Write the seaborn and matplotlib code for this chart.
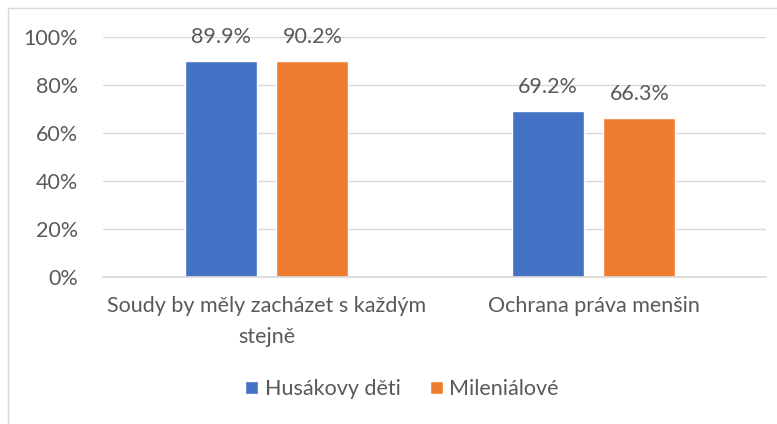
import matplotlib
matplotlib.use("Agg")
import matplotlib.pyplot as plt
import matplotlib.patches as mpatches
import seaborn as sns
import pandas as pd

categories = ["Soudy by měly zacházet s každým\nstejně", "Ochrana práva menšin"]
series_names = ["Husákovy děti", "Mileniálové"]
husak = [0.899, 0.692]
mileni = [0.902, 0.663]
colors = ["#4472C4", "#ED7D31"]
yticks = [0, 0.2, 0.4, 0.6, 0.8, 1.0]
ytick_labels = ["0%", "20%", "40%", "60%", "80%", "100%"]

df = pd.DataFrame({
    "category": categories * 2,
    "series": [series_names[0]] * 2 + [series_names[1]] * 2,
    "value": husak + mileni,
})

sns.set_theme(style="white")
plt.rcParams["font.family"] = ["Lato", "DejaVu Sans"]
txt = "#595959"
fs = 15.5

fig = plt.figure(figsize=(7.77, 4.24), dpi=100)
ax = fig.add_axes([103 / 777, 1 - 277 / 424, (766 - 103) / 777, (277 - 37) / 424])

sns.barplot(data=df, x="category", y="value", hue="series", order=categories,
            hue_order=series_names, palette=colors, width=0.56, gap=0.215,
            saturation=1, ax=ax, legend=True, errorbar=None)

for container in ax.containers:
    ax.bar_label(container, labels=[f"{v*100:.1f}%" for v in container.datavalues],
                 padding=10, fontsize=fs, color=txt)

ax.set_ylim(0, 1.0)
ax.set_xlim(-0.5, 1.527)
ax.set_yticks(yticks)
ax.set_yticklabels(ytick_labels)
ax.yaxis.grid(True, color="#d9d9d9", linewidth=1)
ax.set_axisbelow(True)
for s in ["top", "right", "left"]:
    ax.spines[s].set_visible(False)
ax.spines["bottom"].set_color("#d9d9d9")
ax.tick_params(axis="both", length=0, labelsize=fs, colors=txt)
ax.tick_params(axis="y", pad=18)
ax.tick_params(axis="x", pad=14)
ax.set_xlabel("")
ax.set_ylabel("")
for lbl in ax.get_xticklabels():
    lbl.set_linespacing(1.66)

leg = ax.legend(loc="center", bbox_to_anchor=(402 / 777, 1 - 389 / 424),
                bbox_transform=fig.transFigure, ncol=2, frameon=False,
                fontsize=fs, handlelength=0.6, handleheight=0.6,
                handletextpad=0.3, columnspacing=1.35)
for t in leg.get_texts():
    t.set_color(txt)

frame = mpatches.Rectangle((8 / 777, -0.1), 1.2, 1 - 8 / 424 + 0.1,
                           transform=fig.transFigure, fill=False,
                           edgecolor="#d9d9d9", linewidth=1)
fig.patches.append(frame)

fig.savefig("out.png", dpi=100)
